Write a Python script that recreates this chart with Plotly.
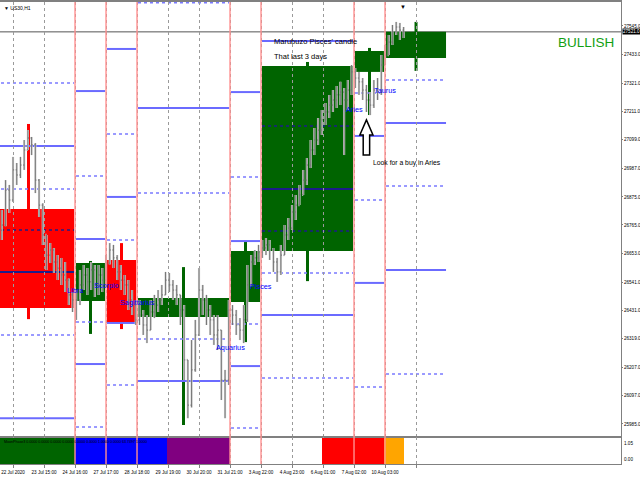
import plotly.graph_objects as go

FONT = "Liberation Sans, Arial, sans-serif"

# ---------------- H1 price bars (3-hour OHLC samples, hour index) ----------------
bar_hours = list(range(-9, 316, 3))
opens = [26745,26765,26902,26863,26981,26961,27000,27059,27106,27079,26941,26843,26726,26647,26667,26620,26596,26569,26549,26491,
         26471,26471,26530,26569,26542,26589,26530,26569,26549,
         26616,26667,26636,26581,26549,26530,26471,26451,
         26393,26412,26373,26353,26424,26451,26471,26491,26549,26530,26510,26491,26432,26236,26059,26197,26334,26510,26471,26432,26393,26334,26353,26157,26157,
         26432,26412,26373,26353,26393,26530,26620,26636,
         26659,26675,26687,26667,26620,26581,26647,26726,26753,26816,26843,26883,26941,27000,27059,27098,27137,27177,27208,27235,27255,27275,27286,27255,27294,
         27365,27341,27326,27294,27255,27235,27294,27286,
         27392,27431,27482,27522,27541,27529]
highs = [26824,26941,26922,27032,27008,27032,27098,27137,27110,27086,26945,26850,26726,26694,26675,26647,26636,26620,26555,26502,
         26510,26589,26608,26596,26620,26608,26608,26596,26647,
         26694,26687,26647,26608,26569,26549,26510,26471,
         26471,26432,26412,26471,26491,26510,26530,26581,26577,26549,26530,26491,26451,26236,26314,26393,26596,26530,26491,26451,26412,26412,26353,26197,26471,
         26451,26432,26400,26451,26608,26647,26667,26687,
         26706,26714,26706,26675,26636,26687,26765,26792,26843,26883,26922,26981,27028,27098,27145,27184,27216,27243,27275,27294,27310,27326,27302,27333,27392,
         27380,27365,27341,27314,27286,27333,27341,27431,
         27471,27510,27549,27561,27557,27541]
lows = [26706,26760,26812,26855,26922,26949,26981,27059,27039,26890,26796,26687,26589,26616,26577,26549,26530,26502,26451,26424,
        26393,26451,26510,26491,26510,26483,26491,26502,26530,
        26610,26596,26549,26510,26491,26432,26412,26373,
        26373,26334,26302,26353,26400,26424,26451,26491,26502,26471,26451,26373,26157,26008,26050,26190,26330,26412,26373,26334,26295,26275,26079,26008,26138,
        26373,26334,26314,26302,26385,26525,26608,26620,
        26636,26647,26628,26581,26542,26569,26647,26706,26745,26785,26843,26883,26922,26988,27039,27079,27118,27157,27184,27208,27224,27235,27039,27216,27275,
        27302,27275,27255,27208,27196,27224,27255,27275,
        27392,27431,27471,27510,27490,27498]
closes = [26765,26902,26863,26981,26961,27000,27059,27106,27079,26941,26843,26726,26647,26667,26620,26596,26569,26549,26491,26471,
          26471,26530,26569,26542,26589,26530,26569,26549,26616,
          26667,26636,26581,26549,26530,26471,26451,26393,
          26412,26373,26353,26424,26451,26471,26491,26549,26530,26510,26491,26432,26236,26059,26197,26334,26510,26471,26432,26393,26334,26353,26157,26157,26432,
          26412,26373,26353,26393,26530,26620,26636,26659,
          26675,26687,26667,26620,26581,26647,26726,26753,26816,26843,26883,26941,27000,27059,27098,27137,27177,27208,27235,27255,27275,27286,27255,27294,27365,
          27341,27326,27294,27255,27235,27294,27286,27392,
          27431,27482,27522,27541,27529,27522]

# ---------------- zodiac-sign candles ----------------
zone_start = [-25, 50, 75, 100, 175, 200, 275, 300]
zone_end = [50, 75, 100, 175, 200, 275, 300, 350]
zone_open = [26828, 26467, 26628, 26404, 26463, 26663, 27365, 27420]
zone_close = [26440, 26616, 26381, 26479, 26663, 27388, 27447, 27522]
zone_high = [27161, 26624, 26694, 26600, 26702, 27404, 27459, 27561]
zone_low = [26396, 26338, 26357, 25981, 26306, 26545, 27196, 27369]

# ---------------- gann levels per zone ----------------
level_zone = [0,0,0,0,0,0,0, 1,1,1,1,1,1, 2,2,2,2,2,2, 3,3,3,3,3, 4,4,4,4,4,4, 5,5,5,5,5,5,5, 6,6,6,6,6, 7,7,7,7,7]
level_price = [27322,27075,26906,26745,26581,26334,26008,
               27290,26957,26710,26385,26220,25973,
               27455,27122,26875,26706,26381,26138,
               27636,27224,26890,26318,26154,
               27286,26953,26702,26377,26212,25969,
               27486,27153,26906,26741,26577,26412,26165,
               27282,27114,26863,26538,26130,
               27333,27165,26918,26589,26181]
level_dash = ['dot','solid','dot','dot','solid','dot','solid',
              'solid','dot','solid','dot','solid','dot',
              'solid','dot','solid','dot','solid','dot',
              'dot','solid','dot','dot','solid',
              'solid','dot','solid','dot','solid','dot',
              'solid','dot','solid','dot','dot','solid','dot',
              'dot','solid','dot','solid','dot',
              'dot','solid','dot','solid','dot']

sep_hours = [50, 75, 100, 175, 200, 275, 300]

sign_names = ['Libra', 'Scorpio', 'Sagittarius', 'Aquarius', 'Pisces', 'Aries', 'Taurus']
sign_x = [50, 75, 100, 175, 200, 275, 300]
sign_price = [26510, 26526, 26463, 26283, 26522, 27216, 27294]

note_text = ["Marubuzo Pisces' candle", "That last 3 days", "Look for a buy in Aries"]
note_x = [209, 209, 289]
note_price = [27486, 27424, 27008]
note_size = [7.5, 7.5, 6.8]

# indicator (MoonPhase3)
ind_start = [-11, 50, 124, 249, 299]
ind_end = [50, 124, 175, 299, 315]
ind_color = ['#006400', '#0000ff', '#800080', '#ff0000', '#ffa500']

tick_hours = [0, 25, 50, 75, 100, 125, 150, 175, 200, 225, 250, 275, 300, 325]
tick_text = ['22 Jul 2020', '23 Jul 15:00', '24 Jul 16:00', '27 Jul 17:00', '28 Jul 18:00',
             '29 Jul 19:00', '30 Jul 20:00', '31 Jul 21:00', '3 Aug 22:00', '4 Aug 23:00',
             '6 Aug 01:00', '7 Aug 02:00', '10 Aug 03:00', '']
price_ticks = [27545, 27433, 27321, 27211, 27099, 26987, 26875, 26765, 26653,
               26541, 26431, 26319, 26207, 26097, 25985]

X_DOM = [0, 0.9703]
fig = go.Figure()

# price bars: light halo + dark bar
fig.add_trace(go.Ohlc(x=bar_hours, open=opens, high=highs, low=lows, close=closes,
                      increasing=dict(line=dict(color='#d2d2d2', width=2.2)),
                      decreasing=dict(line=dict(color='#d2d2d2', width=2.2)),
                      tickwidth=0.3, hoverinfo='skip'))
fig.add_trace(go.Ohlc(x=bar_hours, open=opens, high=highs, low=lows, close=closes,
                      increasing=dict(line=dict(color='#6a6a6a', width=0.9)),
                      decreasing=dict(line=dict(color='#6a6a6a', width=0.9)),
                      tickwidth=0.3, hoverinfo='skip'))

# indicator bars
fig.add_trace(go.Bar(x=[(s + e) / 2 for s, e in zip(ind_start, ind_end)],
                     y=[1 for _ in ind_start],
                     width=[e - s for s, e in zip(ind_start, ind_end)],
                     marker=dict(color=ind_color, line=dict(width=0)),
                     xaxis='x2', yaxis='y2', hoverinfo='skip'))

shapes = []
# zodiac candles (wick + body)
for s, e, o, c, h, l in zip(zone_start, zone_end, zone_open, zone_close, zone_high, zone_low):
    col = '#006400' if c >= o else '#ff0000'
    mid = (s + e) / 2
    shapes.append(dict(type='line', xref='x', yref='y', x0=mid, x1=mid, y0=l, y1=h,
                       line=dict(color=col, width=3), layer='below'))
    shapes.append(dict(type='rect', xref='x', yref='y', x0=s + 0.8, x1=e - 0.8, y0=o, y1=c,
                       fillcolor=col, line=dict(width=0), layer='below'))
# gann levels
for z, p, d in zip(level_zone, level_price, level_dash):
    lo, hi = sorted([zone_open[z], zone_close[z]])
    inside = lo + 15 < p < hi - 15
    col = '#1c1c8a' if inside else ('#6b6bff' if d == 'solid' else '#7a7aff')
    shapes.append(dict(type='line', xref='x', yref='y', x0=zone_start[z] + 0.8, x1=zone_end[z] - 0.8,
                       y0=p, y1=p, line=dict(color=col, width=2 if d == 'solid' else 1.5, dash=d),
                       layer='below'))
# bid line
shapes.append(dict(type='line', xref='paper', yref='y', x0=0, x1=X_DOM[1], y0=closes[-1], y1=closes[-1],
                   line=dict(color='#555555', width=1), layer='below'))
# zone separators
for sx in sep_hours:
    shapes.append(dict(type='line', xref='x', yref='paper', x0=sx, x1=sx, y0=0.0333, y1=0.9958,
                       line=dict(color='#ff9090', width=1.4), layer='above'))
# hollow up arrow
ax, a_top, a_neck, a_bot = 285, 27177, 27118, 27039
arrow_path = (f"M {ax},{a_top} L {ax + 5.3},{a_neck} L {ax + 2.6},{a_neck} L {ax + 2.6},{a_bot} "
              f"L {ax - 2.6},{a_bot} L {ax - 2.6},{a_neck} L {ax - 5.3},{a_neck} Z")
shapes.append(dict(type='path', xref='x', yref='y', path=arrow_path, fillcolor='white',
                   line=dict(color='black', width=1.5), layer='above'))

annotations = []
for n, sx, sp in zip(sign_names, sign_x, sign_price):
    annotations.append(dict(x=sx, y=sp, xref='x', yref='y', text=n, showarrow=False,
                            font=dict(color='#0000ff', size=7.3, family=FONT)))
for t, nx, np_, ns in zip(note_text, note_x, note_price, note_size):
    annotations.append(dict(x=nx, y=np_, xref='x', yref='y', text=t, showarrow=False, xanchor='left',
                            font=dict(color='black', size=ns, family=FONT)))
annotations.append(dict(x=0.9625, y=27482, xref='paper', yref='y', text='BULLISH', showarrow=False,
                        xanchor='right', font=dict(color='#12a012', size=13.5, family=FONT)))
annotations.append(dict(x=X_DOM[1], y=closes[-1], xref='paper', yref='y', text='27521.0', showarrow=False,
                        xanchor='left', bgcolor='black', borderpad=0, xshift=1,
                        font=dict(color='white', size=4.6, family=FONT)))
annotations.append(dict(x=0.003, y=0.993, xref='paper', yref='paper', text='▼ US30,H1', showarrow=False,
                        xanchor='left', yanchor='top', font=dict(color='black', size=5, family=FONT)))
annotations.append(dict(x=314.5, y=0.998, xref='x', yref='paper', text='▼', showarrow=False,
                        yanchor='top', font=dict(color='black', size=6)))
annotations.append(dict(x=0.003, y=0.0885, xref='paper', yref='paper',
                        text='MoonPhase3 0.0000 0.0000 0.0000 0.0000 0.0000 0.0000 1.0000 0.0000 63.7497 1.0000',
                        showarrow=False, xanchor='left', yanchor='top',
                        font=dict(color='black', size=3.6, family=FONT)))
annotations.append(dict(x=X_DOM[1], y=1.05, xref='paper', yref='y2', text='1.05', showarrow=False,
                        xanchor='left', yanchor='top', yshift=-2, xshift=1,
                        font=dict(color='black', size=4.6, family=FONT)))
annotations.append(dict(x=X_DOM[1], y=0, xref='paper', yref='y2', text='0.00', showarrow=False,
                        xanchor='left', yanchor='bottom', xshift=1,
                        font=dict(color='black', size=4.6, family=FONT)))

fig.update_layout(
    width=640, height=480, margin=dict(l=0, r=0, t=0, b=0, autoexpand=False),
    paper_bgcolor='white', plot_bgcolor='white', showlegend=False, bargap=0,
    shapes=shapes, annotations=annotations,
    xaxis=dict(domain=X_DOM, range=[-10.5, 490.3], anchor='y', tickvals=tick_hours,
               showticklabels=False, ticks='', showgrid=True, griddash='dot', gridcolor='#9a9a9a',
               gridwidth=1, zeroline=False, showline=True, mirror=True, linecolor='#808080',
               linewidth=1.5, rangeslider=dict(visible=False), automargin=False),
    yaxis=dict(domain=[0.0917, 0.9958], range=[25938, 27639], side='right', anchor='x',
               tickvals=price_ticks, ticktext=[f'{v}.0' for v in price_ticks],
               tickfont=dict(size=4.6, color='black', family=FONT),
               ticks='outside', ticklen=1, tickcolor='#808080', showgrid=False, zeroline=False,
               showline=True, mirror=True, linecolor='#808080', automargin=False),
    xaxis2=dict(domain=X_DOM, matches='x', anchor='y2', tickvals=tick_hours, ticktext=tick_text,
                tickfont=dict(size=4.6, color='black', family=FONT), ticks='outside', ticklen=3,
                tickcolor='#808080', showgrid=True, griddash='dot', gridcolor='#9a9a9a',
                zeroline=False, showline=True, mirror=True, linecolor='#808080', automargin=False),
    yaxis2=dict(domain=[0.0333, 0.0896], range=[0, 1.05], side='right', anchor='x2',
                showticklabels=False, showgrid=False, zeroline=False, showline=True, mirror=True,
                linecolor='#808080', automargin=False),
)

fig.write_html("out.html", config={'displayModeBar': False},
               post_script="document.body.style.margin='0';")
